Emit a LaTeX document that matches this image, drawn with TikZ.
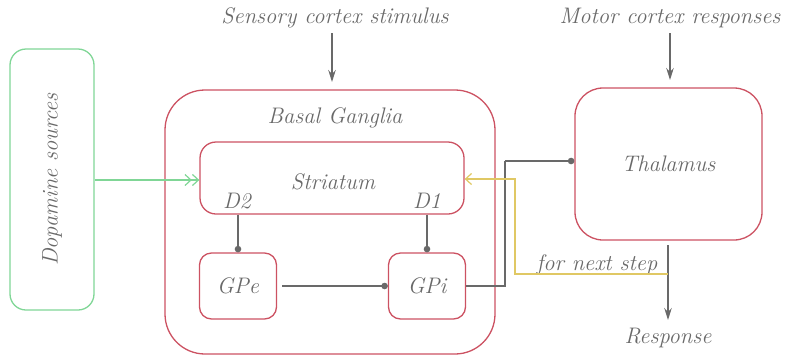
\documentclass[tikz,border=0pt]{standalone}
\usetikzlibrary{arrows.meta}
\definecolor{redc}{RGB}{204,82,98}
\definecolor{greenc}{RGB}{128,214,150}
\definecolor{yellowc}{RGB}{224,200,100}
\definecolor{grayc}{RGB}{105,105,105}
\definecolor{textc}{RGB}{105,105,105}
\tikzset{
  box/.style={draw=redc, line width=1.3pt, rounded corners=#1, inner sep=0pt},
  box/.default=14pt,
  lbl/.style={text=textc, font=\fontsize{22.5}{26}\selectfont\itshape, inner sep=0pt},
  conn/.style={draw=grayc, line width=1.2pt},
  dotend/.style={conn, -{Circle[length=6.5pt]}},
  arr/.style={conn, -{Stealth[length=12pt,width=7.5pt]}},
}
\begin{document}
\begin{tikzpicture}[x=1pt,y=-1pt]
\useasboundingbox (0,0) rectangle (786,357);
% boxes
\node[box=16pt, draw=greenc, minimum width=84pt, minimum height=261pt] (dop) at (52,179.5) {};
\node[lbl, rotate=90] (doptxt) at (dop.center) {Dopamine sources};
\node[box=40pt, minimum width=330pt, minimum height=264pt] (bg) at (330,222) {};
\node[lbl] (bgtxt) at (335,118) {Basal Ganglia};
\node[box=16pt, minimum width=264pt, minimum height=72pt] (str) at (332,178) {};
\node[lbl] (strtxt) at (333,182) {Striatum};
\node[lbl] (d2) at (237,201) {D2};
\node[lbl] (d1) at (427,201) {D1};
\node[box=12pt, minimum width=77pt, minimum height=66pt] (gpe) at (238,286) {};
\node[lbl] (gpetxt) at (gpe.center) {GPe};
\node[box=12pt, minimum width=77pt, minimum height=66pt] (gpi) at (427,286) {};
\node[lbl] (gpitxt) at (gpi.center) {GPi};
\node[box=28pt, minimum width=187pt, minimum height=152pt] (thal) at (668.5,164) {};
\node[lbl] (thaltxt) at (thal.center) {Thalamus};
% free texts
\node[lbl] (sens) at (335,18) {Sensory cortex stimulus};
\node[lbl] (motor) at (670,18) {Motor cortex responses};
\node[lbl] (resp) at (668,338) {Response};
\node[lbl] (next) at (597,265) {for next step};
% coordinates
\coordinate (sensA) at (332,33);
\coordinate (sensB) at (332,82);
\coordinate (motA) at (670,33);
\coordinate (motB) at (670,80);
\coordinate (respA) at (668,245);
\coordinate (respB) at (668,320);
% connectors
\draw[arr] (sensA) -- (sensB);
\draw[arr] (motA) -- (motB);
\draw[arr] (respA) -- (respB);
\draw[draw=greenc, line width=1.2pt, -{Straight Barb[length=6pt,width=11pt]Straight Barb[length=6pt,width=11pt]}] (dop.east |- 0,180) -- (str.west |- 0,180);
\draw[dotend] (gpe.north |- str.south) -- (gpe.north);
\draw[dotend] (gpi.north |- str.south) -- (gpi.north);
\draw[dotend] (gpe.east) ++(5,0) -- (gpi.west);
\draw[conn] (gpi.east) -- (505,286) -- (505,161);
\draw[dotend] (505,161) -- (thal.west |- 0,161);
\draw[draw=yellowc, line width=1.2pt, -{Straight Barb[length=6pt,width=11pt]}] (668,274) -- (515,274) -- (515,179) -- (str.east |- 0,179);
\end{tikzpicture}
\end{document}
